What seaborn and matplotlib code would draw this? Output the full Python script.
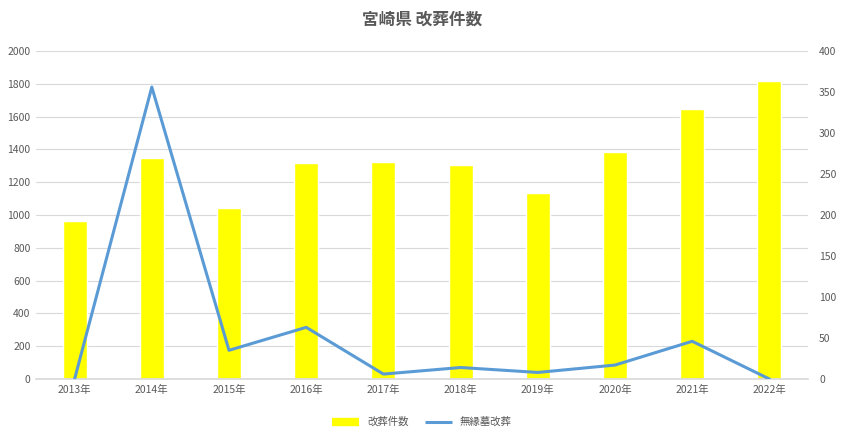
import matplotlib
matplotlib.use("Agg")
import matplotlib.pyplot as plt
import seaborn as sns
import pandas as pd
import numpy as np
from matplotlib.lines import Line2D

years = ["2013年", "2014年", "2015年", "2016年", "2017年", "2018年", "2019年", "2020年", "2021年", "2022年"]
kaiso = [965, 1350, 1045, 1315, 1325, 1305, 1135, 1385, 1645, 1820]
muen = [0, 356, 35, 63, 6, 14, 8, 17, 46, 0]

sns.set_theme(style="white")
plt.rcParams['font.family'] = ['Noto Sans CJK JP', 'DejaVu Sans']

df = pd.DataFrame({"year": years, "kaiso": kaiso, "muen": muen, "pos": np.arange(len(years))})

fig = plt.figure(figsize=(8.44, 4.37), dpi=100)
ax = fig.add_axes([36/844, 1-379/437, (808-36)/844, (379-51)/437])
sns.barplot(data=df, x="year", y="kaiso", color="#FFFF00", width=0.31, ax=ax, saturation=1)
ax.set_ylim(0, 2000)
ax.set_yticks(np.arange(0, 2001, 200))
ax.grid(axis="y", color="#D9D9D9", linewidth=0.8)
ax.set_axisbelow(True)
ax.set_xlabel("")
ax.set_ylabel("")
for s in ax.spines.values():
    s.set_visible(False)
ax.spines["bottom"].set_visible(True)
ax.spines["bottom"].set_color("#D9D9D9")
ax.tick_params(axis="both", labelsize=7.5, colors="#595959", length=0, pad=4)
ax.set_xlim(-0.5, len(years) - 0.5)

ax2 = ax.twinx()
sns.lineplot(data=df, x="pos", y="muen", color="#5B9BD5", linewidth=2.2, ax=ax2)
ax2.set_ylim(0, 400)
ax2.set_yticks(np.arange(0, 401, 50))
ax2.set_ylabel("")
ax2.set_xlabel("")
for s in ax2.spines.values():
    s.set_visible(False)
ax2.tick_params(axis="y", labelsize=7.5, colors="#595959", length=0, pad=8)
ax2.set_xlim(-0.5, len(years) - 0.5)
ax.set_xticks(np.arange(len(years)))
ax.set_xticklabels(years)

fig.suptitle("宮崎県 改葬件数", x=0.5, y=0.975, fontsize=12, color="#595959", fontweight="bold")

handles = [Line2D([0], [0], color="#FFFF00", linewidth=6, solid_capstyle="butt"),
           Line2D([0], [0], color="#5B9BD5", linewidth=2.2, solid_capstyle="butt")]
fig.legend(handles, ["改葬件数", "無縁墓改葬"], loc="center", bbox_to_anchor=(0.5, 1-422/437), ncol=2,
           frameon=False, fontsize=7.5, labelcolor="#595959", handlelength=2.6, columnspacing=1.5)

fig.savefig("out.png", dpi=100)
